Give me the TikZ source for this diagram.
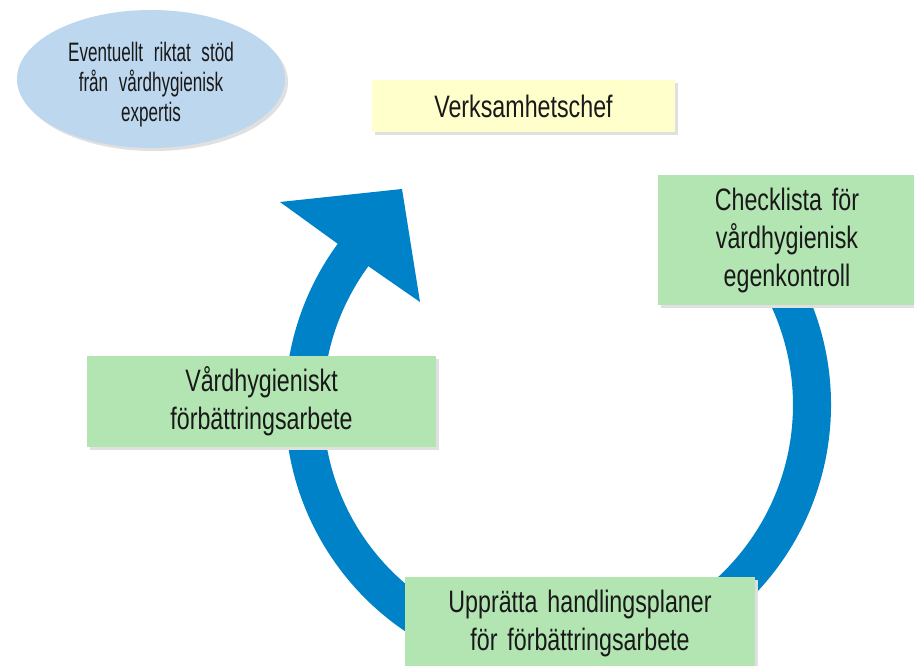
\documentclass[tikz,border=0pt]{standalone}
\usepackage{fontspec}
\setmainfont{Liberation Sans}[FakeStretch=0.75]
\newfontfamily\ellfont{Liberation Sans}[FakeStretch=0.64]
\usetikzlibrary{shapes.geometric,shadows,calc}
\definecolor{boxgreen}{RGB}{178,229,178}
\definecolor{boxyellow}{RGB}{255,255,204}
\definecolor{ellblue}{RGB}{189,215,238}
\definecolor{arrowblue}{RGB}{0,130,200}
\definecolor{txt}{RGB}{25,25,25}
\newcommand{\boxfontsetup}{\fontsize{23.25}{28.5}\selectfont\spaceskip=0.32em plus 0.1em\relax}
\newcommand{\ellfontsetup}{\ellfont\fontsize{20}{22.5}\selectfont\spaceskip=0.4em plus 0.1em\relax}
\tikzset{
  softshadow/.style={drop shadow={shadow xshift=2.25pt,shadow yshift=-2.25pt,fill=black!12,opacity=1}},
  mainbox/.style={rectangle,draw=none,inner sep=0pt,align=center,text=txt,softshadow,
    font=\boxfontsetup},
  greenbox/.style={mainbox,fill=boxgreen},
  yellowbox/.style={mainbox,fill=boxyellow},
  expertell/.style={ellipse,draw=none,fill=ellblue,inner sep=0pt,softshadow},
  elltext/.style={inner sep=0pt,align=center,text=txt,font=\ellfontsetup},
  cyclearrow/.style={fill=arrowblue}
}
\begin{document}
\begin{tikzpicture}[x=0.75pt,y=-0.75pt]
\path[clip] (0,0) rectangle (914,666);
\fill[white] (0,0) rectangle (914,666);
\coordinate (c) at (558,405);
\coordinate (barbout) at (280,202);
\coordinate (tip) at (402,189);
\coordinate (barbin) at (420,302);
\fill[cyclearrow] ($(c)+(-35:273)$) arc[start angle=-35,end angle=216.2,radius=273]
  -- (barbout) -- (tip) -- (barbin) -- ($(c)+(216.2:235)$)
  arc[start angle=216.2,end angle=-35,radius=235] -- cycle;
\node[expertell,minimum width=201pt,minimum height=103.5pt] (exp) at (151,79) {};
\node[elltext] (exptext) at (151,85)
  {Eventuellt riktat stöd\\från vårdhygienisk\\expertis};
\node[yellowbox,minimum width=227.25pt,minimum height=39pt] (chef) at (523.5,106) {Verksamhetschef};
\node[greenbox,minimum width=193.5pt,minimum height=97.5pt] (check) at (787,240)
  {Checklista för\\vårdhygienisk\\egenkontroll};
\node[greenbox,minimum width=261.75pt,minimum height=68.25pt] (forb) at (261.5,401.5)
  {Vårdhygieniskt\\förbättringsarbete};
\node[greenbox,minimum width=262.5pt,minimum height=69.75pt] (plan) at (580,623.5)
  {Upprätta handlingsplaner\\för förbättringsarbete};
\end{tikzpicture}
\end{document}
